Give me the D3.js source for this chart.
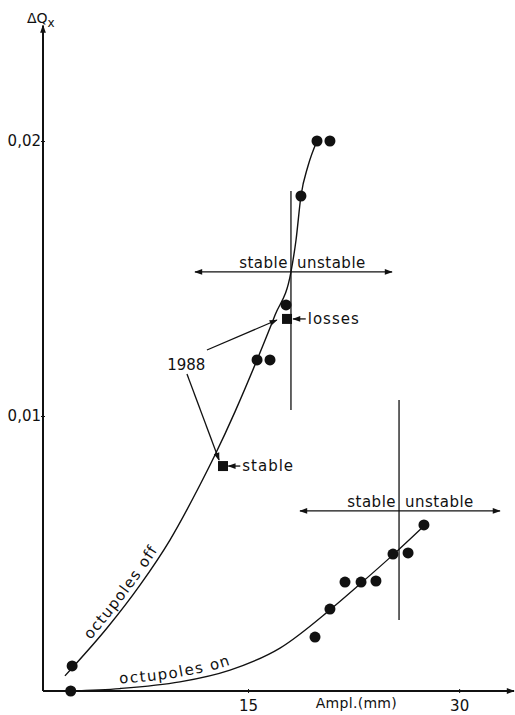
<!DOCTYPE html>
<html>
<head>
<meta charset="utf-8">
<script src="https://cdn.jsdelivr.net/npm/d3@7"></script>
<style>
  html, body { margin: 0; padding: 0; background: #fff; }
  svg { display: block; }
  text { font-family: "DejaVu Sans", sans-serif; fill: #111; }
</style>
</head>
<body>
<script>
// Tune shift ΔQx versus beam amplitude, with and without octupoles.

// measured points, octupoles off: [amplitude (mm), ΔQx]
const offCircles = [[2.5, 0.00091], [15.64, 0.01204], [16.56, 0.01204], [17.70, 0.01404],
                    [18.76, 0.0180], [19.90, 0.0200], [20.82, 0.0200]];
// 1988 measurements (squares)
const offSquares = [[13.22, 0.00818], [17.77, 0.01353]];
// hand-drawn trend line through the octupoles-off data
const offCurve = [[1.99, 0.00055], [2.56, 0.00087], [4.98, 0.00229], [7.32, 0.00385],
                  [9.45, 0.00549], [11.58, 0.00749], [12.65, 0.00858], [14.07, 0.01015],
                  [15.64, 0.01204], [16.92, 0.01367], [18.05, 0.01524], [18.41, 0.01640],
                  [18.76, 0.01800], [19.26, 0.01909], [19.90, 0.0200]];

// measured points, octupoles on
const onCircles = [[2.4, 0], [19.76, 0.00196], [20.82, 0.00298], [21.89, 0.00396],
                   [23.03, 0.00396], [24.09, 0.0040], [25.30, 0.00498], [26.37, 0.00502],
                   [27.50, 0.00604]];
const onCurve = [[2.35, 0], [5.9, 0.00009], [10.16, 0.00033], [13.72, 0.00076],
                 [17.27, 0.00156], [20.82, 0.00295], [22.96, 0.00389],
                 [25.30, 0.00495], [27.50, 0.0060]];

// stability limits: amplitude, vertical extent, double arrow level and span
const limits = [
  { amp: 18.05, yLo: 0.01022, yHi: 0.01818, arrowY: 0.01524, arrowX: [11.23, 25.23] },
  { amp: 25.73, yLo: 0.00258, yHi: 0.01058, arrowY: 0.00655, arrowX: [18.69, 32.9] }
];

const xTicks = [15, 30];
const yTicks = [0.01, 0.02];

const W = 515, H = 715;
const x = d3.scaleLinear().domain([0.43, 33.97]).range([43, 515]);
const y = d3.scaleLinear().domain([0, 0.024]).range([691, 31]);

const svg = d3.select("body").append("svg").attr("width", W).attr("height", H);

const defs = svg.append("defs");
function marker(id, orient) {
  defs.append("marker")
    .attr("id", id).attr("viewBox", "0 -5 10 10")
    .attr("refX", 9).attr("refY", 0)
    .attr("markerUnits", "userSpaceOnUse")
    .attr("markerWidth", 10).attr("markerHeight", 8)
    .attr("orient", orient)
    .append("path").attr("d", "M0,-3.6L10,0L0,3.6Z").attr("fill", "#111");
}
marker("head", "auto");
marker("headBoth", "auto-start-reverse");

// axes
const fmt = v => d3.format(".2f")(v).replace(".", ",");
const yAxis = svg.append("g").attr("transform", `translate(${x(0.43)},0)`)
  .call(d3.axisLeft(y).tickValues(yTicks).tickFormat(fmt).tickSizeInner(3).tickSizeOuter(0).tickPadding(0));
yAxis.select(".domain").remove();
yAxis.selectAll("line").attr("x2", 2).attr("x1", -2).attr("stroke", "#111");
yAxis.selectAll("text").attr("x", -2).style("font-size", "15px").style("font-family", "DejaVu Sans").attr("fill", "#111");

const xAxis = svg.append("g").attr("transform", `translate(0,${y(0)})`)
  .call(d3.axisBottom(x).tickValues(xTicks).tickFormat(d3.format("d")).tickSizeInner(3).tickSizeOuter(0).tickPadding(6));
xAxis.select(".domain").remove();
xAxis.selectAll("line").attr("y1", -2).attr("y2", 2).attr("stroke", "#111");
xAxis.selectAll("text").style("font-size", "15px").style("font-family", "DejaVu Sans").attr("fill", "#111");

svg.append("line")
  .attr("x1", x(0.43)).attr("y1", y(0)).attr("x2", x(0.43)).attr("y2", y(0.0242))
  .attr("stroke", "#111").attr("stroke-width", 2).attr("marker-end", "url(#head)");
svg.append("line")
  .attr("x1", x(0.43)).attr("y1", y(0)).attr("x2", x(33.9)).attr("y2", y(0))
  .attr("stroke", "#111").attr("stroke-width", 2).attr("marker-end", "url(#head)");

// axis titles
const yTitle = svg.append("text").attr("x", 27).attr("y", 23).style("font-size", "14px");
yTitle.append("tspan").text("ΔQ");
yTitle.append("tspan").attr("dy", 4).style("font-size", "12px").text("x");
svg.append("text").attr("x", x(22.7)).attr("y", 708).attr("text-anchor", "middle")
  .style("font-size", "14px").style("letter-spacing", "0.3px").text("Ampl.(mm)");

// trend curves
const line = d3.line().x(d => x(d[0])).y(d => y(d[1])).curve(d3.curveMonotoneX);
svg.append("path").attr("id", "offPath").attr("d", line(offCurve))
  .attr("fill", "none").attr("stroke", "#111").attr("stroke-width", 1.4);
svg.append("path").attr("id", "onPath").attr("d", line(onCurve))
  .attr("fill", "none").attr("stroke", "#111").attr("stroke-width", 1.3);

// curve labels
svg.append("text").attr("dy", -5).style("font-size", "15px").style("letter-spacing", "1.3px")
  .append("textPath").attr("href", "#offPath").attr("startOffset", 44).text("octupoles off");
svg.append("text").attr("dy", -5).style("font-size", "15px").style("letter-spacing", "1.6px")
  .append("textPath").attr("href", "#onPath").attr("startOffset", 50).text("octupoles on");

// stability limits
limits.forEach(l => {
  svg.append("line")
    .attr("x1", x(l.amp)).attr("x2", x(l.amp)).attr("y1", y(l.yLo)).attr("y2", y(l.yHi))
    .attr("stroke", "#111").attr("stroke-width", 1.3);
  svg.append("line")
    .attr("x1", x(l.arrowX[0])).attr("x2", x(l.arrowX[1])).attr("y1", y(l.arrowY)).attr("y2", y(l.arrowY))
    .attr("stroke", "#111").attr("stroke-width", 1.4)
    .attr("marker-start", "url(#headBoth)").attr("marker-end", "url(#headBoth)");
  svg.append("text").attr("x", x(l.amp) - 3).attr("y", y(l.arrowY) - 4)
    .attr("text-anchor", "end").style("font-size", "15px").style("letter-spacing", "0.5px").text("stable");
  svg.append("text").attr("x", x(l.amp) + 6).attr("y", y(l.arrowY) - 4)
    .style("font-size", "15px").style("letter-spacing", "0.5px").text("unstable");
});

// data markers
svg.append("g").selectAll("circle").data(offCircles.concat(onCircles)).join("circle")
  .attr("cx", d => x(d[0])).attr("cy", d => y(d[1])).attr("r", 5.5).attr("fill", "#111");
svg.append("g").selectAll("rect").data(offSquares).join("rect")
  .attr("x", d => x(d[0]) - 5).attr("y", d => y(d[1]) - 5)
  .attr("width", 10).attr("height", 10).attr("fill", "#111");

// 1988 annotation
const note1988 = [[[12.08, 0.0124], [17.05, 0.01349]], [[10.66, 0.01153], [12.94, 0.0084]]];
note1988.forEach(seg => {
  svg.append("line")
    .attr("x1", x(seg[0][0])).attr("y1", y(seg[0][1])).attr("x2", x(seg[1][0])).attr("y2", y(seg[1][1]))
    .attr("stroke", "#111").attr("stroke-width", 1.3).attr("marker-end", "url(#head)");
});
svg.append("text").attr("x", x(11.97)).attr("y", y(0.01169)).attr("text-anchor", "end")
  .style("font-size", "15px").text("1988");

// labels on the 1988 squares
const squareNotes = [
  { from: 19.1, to: 18.2, at: 0.01353, text: "losses" },
  { from: 14.45, to: 13.6, at: 0.00818, text: "stable" }
];
squareNotes.forEach(n => {
  svg.append("line")
    .attr("x1", x(n.from)).attr("x2", x(n.to)).attr("y1", y(n.at)).attr("y2", y(n.at))
    .attr("stroke", "#111").attr("stroke-width", 1.3).attr("marker-end", "url(#head)");
  svg.append("text").attr("x", x(n.from) + 2).attr("y", y(n.at) + 5)
    .style("font-size", "15px").style("letter-spacing", "1px").text(n.text);
});
</script>
</body>
</html>
